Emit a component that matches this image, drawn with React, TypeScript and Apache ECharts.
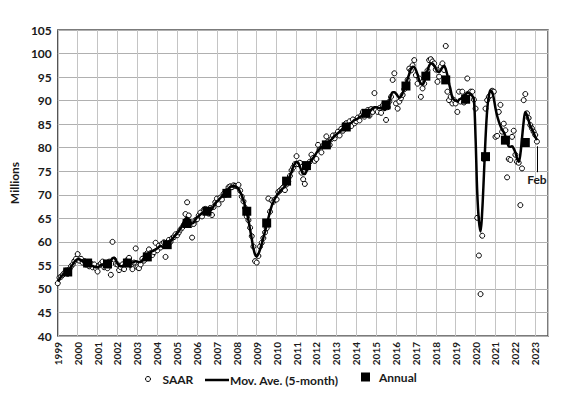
import React, { useEffect, useRef } from "react";
import * as echarts from "echarts";

// ---------------- data ----------------
const START_YEAR = 1999;

// Monthly SAAR values (millions), one row per year, Jan..Dec
const SAAR_1999_2004: number[][] = [
  [51.2, 52.4, 52.6, 53.0, 53.4, 53.9, 53.2, 54.2, 54.8, 55.2, 55.9, 56.4],
  [57.4, 56.0, 56.4, 55.6, 55.9, 55.2, 55.6, 54.8, 55.4, 54.6, 55.2, 54.4],
  [53.7, 55.0, 55.4, 55.8, 54.6, 55.4, 54.4, 55.8, 53.0, 60.0, 56.2, 55.3],
  [55.2, 54.0, 54.6, 55.2, 54.2, 55.8, 56.2, 56.6, 55.0, 54.2, 55.6, 58.6],
  [54.6, 54.4, 55.2, 56.4, 56.0, 57.0, 57.6, 58.4, 57.6, 57.2, 57.8, 59.8],
  [58.2, 59.2, 58.8, 59.6, 59.9, 56.8, 59.6, 60.4, 60.0, 60.8, 61.0, 61.6],
];
const SAAR_2005_2010: number[][] = [
  [61.4, 62.0, 62.6, 63.0, 63.6, 65.9, 68.4, 65.6, 63.6, 60.9, 63.8, 64.6],
  [64.8, 65.6, 66.2, 65.4, 66.8, 67.0, 66.4, 66.0, 67.2, 65.7, 67.4, 68.4],
  [69.2, 68.0, 69.4, 69.0, 70.2, 70.0, 70.8, 71.6, 71.8, 71.6, 72.0, 71.9],
  [71.8, 72.1, 70.9, 69.6, 68.6, 67.2, 65.4, 64.6, 63.0, 61.2, 59.0, 55.9],
  [55.6, 57.0, 59.0, 59.8, 60.8, 62.0, 62.9, 69.2, 66.4, 68.8, 68.5, 69.0],
  [69.0, 70.6, 70.9, 71.2, 71.6, 71.0, 72.2, 72.8, 74.0, 75.2, 75.8, 76.5],
];
const SAAR_2011_2016: number[][] = [
  [78.2, 76.5, 76.8, 74.7, 73.3, 72.3, 75.6, 76.2, 77.0, 78.5, 77.8, 77.2],
  [77.6, 80.6, 79.6, 79.0, 80.4, 80.6, 82.4, 81.3, 80.6, 81.8, 82.6, 82.0],
  [82.8, 83.4, 82.6, 84.0, 83.6, 84.8, 85.2, 84.2, 85.6, 84.6, 86.0, 85.2],
  [85.6, 86.4, 85.8, 86.8, 87.6, 86.6, 87.4, 88.0, 86.8, 88.2, 87.6, 91.6],
  [88.0, 87.6, 88.4, 87.4, 89.0, 88.7, 85.9, 88.6, 89.8, 90.8, 94.4, 95.8],
  [89.4, 88.3, 89.8, 90.5, 91.2, 92.4, 93.4, 94.4, 96.8, 96.4, 97.5, 98.6],
];
const SAAR_2017_2023: number[][] = [
  [95.4, 93.6, 94.7, 90.8, 92.6, 93.6, 95.2, 96.4, 98.6, 98.8, 98.3, 97.9],
  [96.6, 94.0, 95.1, 97.2, 97.9, 96.5, 101.6, 91.9, 90.1, 90.8, 89.4, 90.1],
  [89.4, 87.6, 91.9, 89.8, 91.9, 89.6, 90.0, 94.7, 91.5, 91.9, 91.9, 90.2],
  [88.3, 65.1, 57.1, 48.9, 61.3, 77.6, 88.3, 90.1, 90.8, 91.2, 92.1, 91.9],
  [82.3, 82.5, 87.6, 89.1, 83.4, 85.1, 83.7, 73.7, 77.6, 77.4, 82.3, 83.6],
  [78.5, 77.0, 76.8, 67.8, 75.6, 90.1, 91.4, 87.3, 86.3, 84.8, 84.1, 83.4],
  [82.7, 81.3],
];

// 5-month moving average line, one row per year
const MA_1999_2004: number[][] = [
  [51.6, 52.1, 52.6, 53.0, 53.3, 53.5, 53.8, 54.2, 54.7, 55.2, 55.7, 56.1],
  [56.3, 56.3, 56.1, 55.9, 55.7, 55.5, 55.3, 55.2, 55.0, 54.9, 54.7, 54.6],
  [54.6, 54.8, 55.1, 55.2, 55.0, 54.9, 54.9, 55.4, 56.0, 56.5, 56.6, 56.1],
  [55.4, 55.0, 54.8, 54.8, 55.2, 55.6, 55.9, 55.8, 55.6, 55.6, 55.7, 55.9],
  [55.8, 55.7, 55.7, 56.0, 56.5, 57.0, 57.4, 57.6, 57.8, 58.0, 58.2, 58.4],
  [58.6, 58.9, 59.1, 59.0, 58.8, 59.1, 59.4, 59.8, 60.2, 60.6, 61.0, 61.4],
];
const MA_2005_2010: number[][] = [
  [61.8, 62.3, 62.8, 63.4, 64.2, 64.9, 65.1, 64.8, 64.2, 63.9, 64.1, 64.7],
  [65.2, 65.5, 65.8, 66.1, 66.3, 66.4, 66.6, 66.6, 66.7, 67.0, 67.6, 68.2],
  [68.6, 68.9, 69.3, 69.6, 70.0, 70.4, 70.9, 71.3, 71.6, 71.8, 71.9, 71.8],
  [71.6, 71.2, 70.6, 69.8, 68.8, 67.6, 66.2, 64.6, 62.6, 60.6, 58.6, 57.3],
  [56.9, 57.4, 58.4, 59.6, 60.9, 62.2, 63.6, 65.0, 66.4, 67.6, 68.4, 69.2],
  [69.8, 70.3, 70.7, 71.1, 71.4, 71.8, 72.4, 73.2, 74.0, 74.9, 75.9, 76.6],
];
const MA_2011_2016: number[][] = [
  [77.0, 76.8, 76.0, 75.1, 74.4, 74.4, 75.0, 75.9, 76.8, 77.4, 77.8, 78.3],
  [78.9, 79.4, 79.8, 80.1, 80.4, 80.8, 81.1, 81.2, 81.4, 81.7, 82.1, 82.5],
  [82.8, 83.1, 83.4, 83.7, 84.0, 84.4, 84.7, 84.9, 85.1, 85.3, 85.6, 85.9],
  [86.0, 86.2, 86.5, 86.7, 87.0, 87.2, 87.3, 87.4, 87.6, 88.0, 88.4, 88.6],
  [88.6, 88.5, 88.4, 88.4, 88.3, 88.0, 88.2, 88.7, 89.9, 91.2, 91.8, 91.8],
  [91.5, 91.0, 90.6, 90.9, 91.6, 92.5, 93.5, 94.6, 95.7, 96.7, 97.2, 97.1],
];
const MA_2017_2023: number[][] = [
  [96.5, 95.5, 94.3, 93.6, 93.4, 94.0, 95.1, 96.4, 97.4, 97.9, 97.9, 97.4],
  [96.8, 96.2, 96.1, 96.5, 97.1, 97.4, 96.7, 95.4, 93.7, 92.2, 90.6, 90.2],
  [90.0, 89.8, 90.2, 90.4, 90.7, 91.1, 91.4, 91.7, 91.6, 91.4, 91.0, 90.2],
  [82.0, 70.5, 64.5, 62.2, 66.5, 74.0, 82.0, 88.0, 91.0, 92.2, 91.8, 90.4],
  [88.4, 86.8, 85.6, 84.6, 83.8, 83.3, 82.4, 81.2, 80.3, 80.2, 80.3, 79.8],
  [79.0, 77.8, 77.0, 78.6, 82.0, 85.5, 87.6, 86.9, 85.8, 84.6, 83.9, 83.2],
  [82.3, 81.6],
];

// Annual averages
const ANNUAL_YEARS = [
  1999, 2000, 2001, 2002, 2003, 2004, 2005, 2006, 2007, 2008, 2009, 2010,
  2011, 2012, 2013, 2014, 2015, 2016, 2017, 2018, 2019, 2020, 2021, 2022,
];
const ANNUAL_VALUES = [
  53.6, 55.5, 55.3, 55.5, 56.8, 59.4, 63.9, 66.5, 70.3, 66.5, 64.0, 72.9,
  76.2, 80.6, 84.4, 87.3, 89.1, 93.1, 95.2, 94.4, 90.3, 78.1, 81.6, 81.1,
];

const LAST_LABEL = "Feb";
const LAST_YEAR = 2023;
const LAST_MONTH_INDEX = 1; // February

// ---------------- helpers ----------------
function toMonthly(rows: number[][]): [number, number][] {
  const out: [number, number][] = [];
  rows.forEach((row, i) =>
    row.forEach((v, m) => out.push([START_YEAR + i + m / 12, v]))
  );
  return out;
}

const SAAR_ROWS = [...SAAR_1999_2004, ...SAAR_2005_2010, ...SAAR_2011_2016, ...SAAR_2017_2023];
const MA_ROWS = [...MA_1999_2004, ...MA_2005_2010, ...MA_2011_2016, ...MA_2017_2023];

const FONT = "Lato, 'Open Sans', sans-serif";
const TXT = "#1a1a1a";

export default function App() {
  const ref = useRef<HTMLDivElement>(null);

  useEffect(() => {
    if (!ref.current) return;
    const chart = echarts.init(ref.current, undefined, { renderer: "svg" });
    const saar = toMonthly(SAAR_ROWS);
    const ma = toMonthly(MA_ROWS);
    const annual = ANNUAL_YEARS.map((y, i) => [y + 0.5, ANNUAL_VALUES[i]]);
    const lastX = LAST_YEAR + LAST_MONTH_INDEX / 12;

    const legendText = { fontFamily: FONT, fontWeight: "bold" as const, fontSize: 12, color: TXT };

    chart.setOption({
      animation: false,
      backgroundColor: "#ffffff",
      grid: {
        left: 48,
        right: 35,
        top: 30,
        bottom: 60,
        show: true,
        borderColor: "#505050",
        borderWidth: 1.5,
        backgroundColor: "transparent",
      },
      legend: [
        {
          data: [{ name: "SAAR", icon: "circle", itemStyle: { color: "#fff", borderColor: "#000", borderWidth: 1, opacity: 1 } }],
          left: 145,
          top: 373,
          padding: 0,
          itemWidth: 5,
          itemHeight: 5,
          textStyle: { ...legendText, padding: [0, 0, 0, 7] },
          selectedMode: false,
        },
        {
          data: [{ name: "Mov. Ave. (5-month)", icon: "rect", itemStyle: { color: "#000", opacity: 1 } }],
          left: 205,
          top: 374,
          padding: 0,
          itemWidth: 24,
          itemHeight: 2.5,
          textStyle: { ...legendText, padding: [0, 0, 0, -4] },
          selectedMode: false,
        },
        {
          data: [{ name: "Annual", icon: "rect", itemStyle: { color: "#000", opacity: 1 } }],
          left: 361,
          top: 371,
          padding: 0,
          itemWidth: 9,
          itemHeight: 9,
          textStyle: { ...legendText, padding: [0, 0, 0, 4] },
          selectedMode: false,
        },
      ],
      xAxis: {
        type: "value",
        min: START_YEAR,
        max: 2023.64,
        interval: 1,
        axisLine: { show: false },
        axisTick: { show: false },
        splitLine: { show: true, lineStyle: { color: "#c4c4c4", width: 1 } },
        axisLabel: {
          rotate: 90,
          margin: 6,
          fontFamily: FONT,
          fontWeight: "bold",
          fontSize: 10,
          color: TXT,
          showMaxLabel: false,
          formatter: (v: number) => (Number.isInteger(v) ? String(v) : ""),
        },
      },
      yAxis: {
        type: "value",
        min: 40,
        max: 105,
        interval: 5,
        name: "Millions",
        nameLocation: "middle",
        nameGap: 28,
        nameRotate: 90,
        nameTextStyle: { fontFamily: FONT, fontWeight: "bold", fontSize: 12, color: TXT },
        axisLine: { show: false },
        axisTick: { show: false },
        splitLine: { show: true, lineStyle: { color: "#b0b0b0", width: 1 } },
        axisLabel: { margin: 6, fontFamily: FONT, fontWeight: "bold", fontSize: 12, color: TXT },
      },
      series: [
        {
          name: "SAAR",
          type: "scatter",
          data: saar,
          symbol: "circle",
          symbolSize: 5,
          itemStyle: { color: "#ffffff", borderColor: "#000000", borderWidth: 1, opacity: 1 },
          z: 2,
        },
        {
          name: "Mov. Ave. (5-month)",
          type: "line",
          data: ma,
          showSymbol: false,
          symbol: "none",
          smooth: 0.35,
          lineStyle: { color: "#000000", width: 2.5 },
          itemStyle: { color: "#000000" },
          z: 3,
          markLine: {
            silent: true,
            symbol: ["none", "arrow"],
            symbolSize: [0, 7],
            lineStyle: { color: "#000", width: 1, type: "solid" },
            label: {
              show: true,
              position: "start",
              distance: 1,
              formatter: LAST_LABEL,
              fontFamily: FONT,
              fontWeight: "bold",
              fontSize: 12,
              color: TXT,
            },
            data: [[{ coord: [lastX, 74.8] }, { coord: [lastX, 80.3] }]],
          },
        },
        {
          name: "Annual",
          type: "scatter",
          data: annual,
          symbol: "rect",
          symbolSize: 9,
          itemStyle: { color: "#000000", opacity: 1 },
          z: 4,
        },
      ],
    });
    return () => chart.dispose();
  }, []);

  return (
    <div
      ref={ref}
      style={{ position: "fixed", left: 0, top: 0, width: 583, height: 396, background: "#fff" }}
    />
  );
}
